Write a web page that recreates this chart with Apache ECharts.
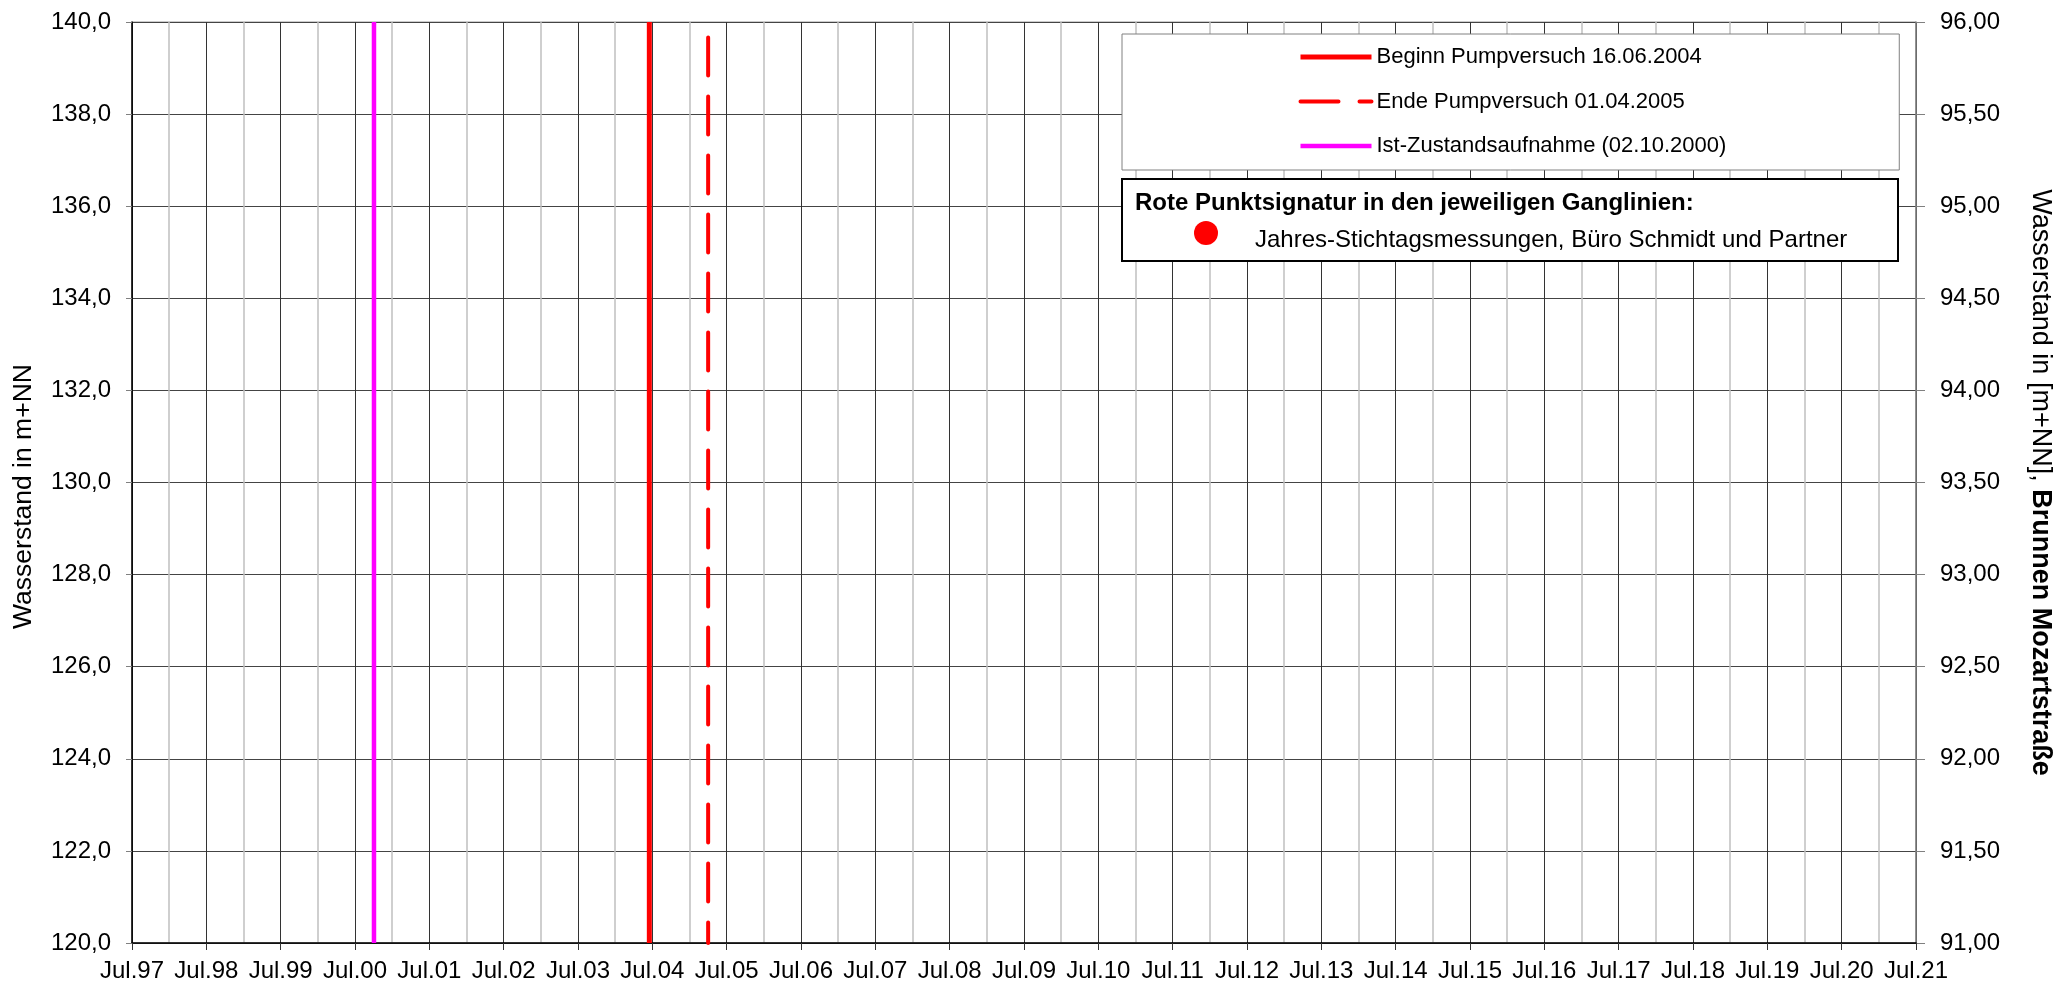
<!DOCTYPE html>
<html>
<head>
<meta charset="utf-8">
<script src="https://cdn.jsdelivr.net/npm/echarts@6/dist/echarts.min.js"></script>
<style>
html,body{margin:0;padding:0;background:#fff;}
#chart{width:2062px;height:985px;}
</style>
</head>
<body>
<div id="chart"></div>
<script>
// ---- data ----
const axisStartDate = '1997-07-01';
const xTickLabels = ['Jul.97','Jul.98','Jul.99','Jul.00','Jul.01','Jul.02','Jul.03','Jul.04','Jul.05','Jul.06','Jul.07','Jul.08','Jul.09','Jul.10','Jul.11','Jul.12','Jul.13','Jul.14','Jul.15','Jul.16','Jul.17','Jul.18','Jul.19','Jul.20','Jul.21'];
const leftAxisRange = [120, 140, 2];
const rightAxisRange = [91, 96, 0.5];
const eventNames = ['Beginn Pumpversuch 16.06.2004', 'Ende Pumpversuch 01.04.2005', 'Ist-Zustandsaufnahme (02.10.2000)'];
const eventDates = ['2004-06-16', '2005-04-01', '2000-10-02'];
const eventLevels = [140, 120];
const eventColors = ['#ff0000', '#ff0000', '#ff00ff'];
const noteTitle = 'Rote Punktsignatur in den jeweiligen Ganglinien:';
const noteItem = 'Jahres-Stichtagsmessungen, Büro Schmidt und Partner';

// ---- helpers ----
const FONT = "'Liberation Sans', Arial, Helvetica, sans-serif";
function yearsSinceStart(d) {
  return (Date.parse(d) - Date.parse(axisStartDate)) / (365.25 * 864e5);
}
const comma = (v, n) => v.toFixed(n).replace('.', ',');

const lineStyles = [
  {width: 5, type: 'solid', cap: 'butt'},
  {width: 4, type: [38, 21], dashOffset: 43.5, cap: 'round'},
  {width: 4.5, type: 'solid', cap: 'butt'}
];

const series = eventNames.map((name, i) => ({
  name: name,
  type: 'line',
  yAxisIndex: 0,
  symbol: 'none',
  showSymbol: false,
  silent: true,
  data: eventLevels.map(lv => [yearsSinceStart(eventDates[i]), lv]),
  lineStyle: Object.assign({color: eventColors[i]}, lineStyles[i]),
  itemStyle: {color: eventColors[i]},
  z: 3
}));

const legendData = eventNames.map((n, i) => ({
  name: n,
  itemStyle: {opacity: 0},
  lineStyle: Object.assign({color: eventColors[i]}, lineStyles[i], {dashOffset: 0})
}));

const chart = echarts.init(document.getElementById('chart'), null, {renderer: 'canvas'});
chart.setOption({
  animation: false,
  backgroundColor: '#fff',
  textStyle: {fontFamily: FONT},
  grid: {left: 132, right: 139, top: 22, bottom: 42, show: true, borderColor: '#999', borderWidth: 1, backgroundColor: 'transparent'},
  legend: {
    orient: 'vertical',
    left: 1122,
    top: 34,
    padding: [12, 173, 13, 176],
    itemGap: 22.5,
    itemWidth: 71,
    itemHeight: 14,
    backgroundColor: '#fff',
    borderColor: '#808080',
    borderWidth: 1,
    borderRadius: 0,
    selectedMode: false,
    textStyle: {fontSize: 22, color: '#000', fontFamily: FONT},
    data: legendData
  },
  xAxis: {
    type: 'value',
    min: 0,
    max: xTickLabels.length - 1,
    interval: 1,
    axisLine: {show: true, onZero: false, lineStyle: {color: '#000', width: 1.5}},
    axisTick: {show: true, length: 7, lineStyle: {color: '#333'}},
    axisLabel: {margin: 16, fontSize: 24, color: '#000', fontFamily: FONT, formatter: v => xTickLabels[Math.round(v)]},
    splitLine: {show: true, lineStyle: {color: '#333', width: 1}},
    minorTick: {show: false, splitNumber: 2},
    minorSplitLine: {show: true, lineStyle: {color: '#c0c0c0', width: 1.5}}
  },
  yAxis: [
    {
      type: 'value',
      position: 'left',
      min: leftAxisRange[0], max: leftAxisRange[1], interval: leftAxisRange[2],
      name: 'Wasserstand in m+NN',
      nameLocation: 'middle',
      nameRotate: 90,
      nameGap: 95,
      nameTextStyle: {fontSize: 26.5, color: '#000', fontFamily: FONT, padding: [0, 28, 0, 0]},
      axisLine: {show: true, lineStyle: {color: '#000', width: 1.5}},
      axisTick: {show: true, length: 6, lineStyle: {color: '#808080'}},
      axisLabel: {margin: 21, fontSize: 24, color: '#000', fontFamily: FONT, formatter: v => comma(v, 1)},
      splitLine: {show: true, lineStyle: {color: '#444', width: 1}}
    },
    {
      type: 'value',
      position: 'right',
      min: rightAxisRange[0], max: rightAxisRange[1], interval: rightAxisRange[2],
      name: '{r|Wasserstand in [m+NN], }{b|Brunnen Mozartstraße}',
      nameLocation: 'middle',
      nameRotate: -90,
      nameGap: 111,
      nameTextStyle: {
        color: '#000',
        rich: {
          r: {fontSize: 27, fontFamily: FONT, color: '#000'},
          b: {fontSize: 27, fontFamily: FONT, fontWeight: 'bold', color: '#000'}
        }
      },
      axisLine: {show: true, lineStyle: {color: '#808080', width: 1.5}},
      axisTick: {show: true, length: 9, lineStyle: {color: '#808080'}},
      axisLabel: {margin: 24, fontSize: 24, color: '#000', fontFamily: FONT, formatter: v => comma(v, 2)},
      splitLine: {show: false}
    }
  ],
  graphic: [
    {type: 'rect', z: 100, shape: {x: 1122, y: 179, width: 776, height: 82}, style: {fill: '#fff', stroke: '#000', lineWidth: 2}},
    {type: 'text', z: 101, x: 1135, y: 203, style: {text: noteTitle, font: 'bold 24px ' + FONT, fill: '#000', verticalAlign: 'middle'}},
    {type: 'circle', z: 101, shape: {cx: 1206, cy: 233, r: 12}, style: {fill: '#ff0000'}},
    {type: 'text', z: 101, x: 1255, y: 240, style: {text: noteItem, font: '24px ' + FONT, fill: '#000', verticalAlign: 'middle'}}
  ],
  series: series
});
</script>
</body>
</html>
